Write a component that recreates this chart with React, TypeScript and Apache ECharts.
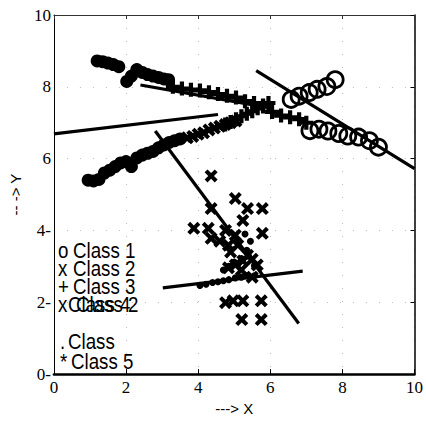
import React, { useEffect, useRef } from "react";
import * as echarts from "echarts";

// ---- data ----
const xTicks = [0, 2, 4, 6, 8, 10];
const yTicks = [0, 2, 4, 6, 8, 10];

// Class 1 (o) : circles at the ends of both curves
const class1Upper: number[][] = [
  [7.1, 6.78], [7.35, 6.82], [7.6, 6.77], [7.9, 6.7], [8.15, 6.63], [8.45, 6.6], [8.75, 6.5], [9.0, 6.32],
];
const class1Lower: number[][] = [
  [6.58, 7.65], [6.8, 7.74], [7.08, 7.84], [7.3, 7.93], [7.57, 8.01], [7.8, 8.2],
];

// Class 2 (x) : scattered crosses in the lower middle
const class2Points: number[][] = [
  [4.36, 5.52], [5.03, 4.89], [5.37, 4.61], [5.78, 4.61], [4.36, 4.61], [5.24, 4.28],
  [3.88, 4.06], [4.28, 4.06], [4.36, 3.78], [4.76, 4.0], [5.03, 3.87], [5.78, 3.92],
  [4.84, 3.59], [5.1, 3.59], [5.37, 3.31], [5.5, 3.2], [4.84, 2.96], [5.03, 3.04],
  [5.64, 3.04], [5.24, 3.15], [4.6, 3.7], [4.9, 3.4], [5.2, 2.9], [5.5, 2.7],
  [4.76, 1.99], [4.97, 2.04], [5.24, 2.04], [5.75, 2.04], [5.21, 1.52], [5.75, 1.52],
];

// Class 3 (+) : pluses along both curves
const class3Upper: number[][] = [
  [3.3, 8.0], [3.55, 7.95], [3.8, 7.92], [4.05, 7.9], [4.3, 7.85], [4.55, 7.8], [4.8, 7.75],
  [5.05, 7.7], [5.3, 7.6], [5.55, 7.55], [5.8, 7.45], [6.05, 7.3], [6.3, 7.2], [6.55, 7.15],
  [6.8, 7.1], [7.0, 7.0],
];
const class3Lower: number[][] = [
  [4.75, 6.95], [4.9, 7.02], [5.05, 7.1], [5.2, 7.18], [5.35, 7.25], [5.5, 7.32],
  [5.65, 7.4], [5.8, 7.48], [5.95, 7.55],
];

// Class 4 (x) : crosses on the rising curve
const class4Points: number[][] = [
  [3.7, 6.58], [3.85, 6.62], [4.0, 6.68], [4.15, 6.72], [4.3, 6.8], [4.45, 6.85],
  [4.6, 6.9], [4.75, 6.95], [4.9, 7.0], [5.05, 7.05],
];

// Class 5 (.) : big dots at the start of both curves, small dots near the flat line
const class5Upper: number[][] = [
  [1.2, 8.72], [1.35, 8.7], [1.5, 8.66], [1.65, 8.62], [1.8, 8.56], [2.02, 8.15], [2.15, 8.3],
  [2.3, 8.48], [2.45, 8.4], [2.6, 8.34], [2.75, 8.3], [2.9, 8.26], [3.05, 8.22], [3.18, 8.2],
];
const class5Lower: number[][] = [
  [0.95, 5.4], [1.1, 5.38], [1.25, 5.42], [1.4, 5.6], [1.55, 5.68], [1.7, 5.78], [1.85, 5.88],
  [2.0, 5.92], [2.15, 5.78], [2.3, 6.02], [2.45, 6.1], [2.6, 6.15], [2.75, 6.2], [2.9, 6.3],
  [3.05, 6.38], [3.2, 6.45], [3.35, 6.5], [3.5, 6.55],
];
const class5Small: number[][] = [
  [4.05, 2.47], [4.22, 2.5], [4.4, 2.55], [4.55, 2.57], [4.7, 2.6], [4.85, 2.63], [5.03, 2.68],
  [5.2, 2.7], [5.35, 2.74], [5.56, 2.74], [4.7, 2.9], [4.85, 3.0], [5.0, 3.12], [5.2, 3.22],
  [5.4, 3.28], [5.56, 3.02], [5.35, 3.45], [5.45, 3.7], [5.3, 3.9],
];

// fitted straight lines (end points)
const fitLine1: number[][] = [[0, 6.69], [4.55, 7.23]];
const fitLine2: number[][] = [[2.4, 8.05], [5.8, 7.45]];
const fitLine3: number[][] = [[5.61, 8.45], [10, 5.72]];
const fitLine4: number[][] = [[2.81, 6.77], [6.79, 1.41]];
const fitLine5: number[][] = [[3.02, 2.4], [6.9, 2.87]];

// legend texts as drawn in the figure
const legendLines = [
  { mark: "o", label: "Class 1" },
  { mark: "x", label: "Class 2" },
  { mark: "+", label: "Class 3" },
  { mark: "x", label: "Class 4" },
  { mark: ".", label: "Class" },
  { mark: "*", label: "Class 5" },
];

const X_PATH = "path://M2.2,0 L5,2.8 L7.8,0 L10,2.2 L7.2,5 L10,7.8 L7.8,10 L5,7.2 L2.2,10 L0,7.8 L2.8,5 L0,2.2 Z";
const PLUS_PATH = "path://M3.5,0 H6.5 V3.5 H10 V6.5 H6.5 V10 H3.5 V6.5 H0 V3.5 H3.5 Z";

export default function App() {
  const ref = useRef<HTMLDivElement>(null);

  useEffect(() => {
    if (!ref.current) return;
    const chart = echarts.init(ref.current, null, { renderer: "svg" });

    const black = "#000";
    const scat = (name: string, data: number[][], symbol: string, size: number, extra: any = {}) => ({
      type: "scatter",
      name,
      data,
      symbol,
      symbolSize: size,
      itemStyle: { color: black, opacity: 1, ...extra },
      z: 3,
    });
    const line = (data: number[][]) => ({
      type: "line",
      data,
      symbol: "none",
      lineStyle: { color: black, width: 3.2 },
      z: 2,
    });
    const circleStyle = { color: "rgba(0,0,0,0)", borderColor: black, borderWidth: 2.8 };

    const legendFont = '22px "Liberation Sans", Arial, sans-serif';
    const lx = 58;
    const ys = [250, 268, 286, 304, 341, 361];
    const graphics: any[] = [];
    legendLines.forEach((l, i) => {
      const isOverlap = i === 3;
      const labelX = i === 3 ? 68 : i === 4 ? 68 : i === 5 ? 71 : 73;
      graphics.push({
        type: "text",
        x: i >= 4 ? lx + 2 : lx,
        y: ys[i],
        scaleX: 0.85,
        style: { text: l.mark, font: legendFont, fill: black, textVerticalAlign: "middle" },
        z: 10,
      });
      graphics.push({
        type: "text",
        x: labelX,
        y: ys[i],
        scaleX: 0.85,
        style: { text: l.label, font: legendFont, fill: black, textVerticalAlign: "middle" },
        z: 10,
      });
      if (isOverlap) {
        graphics.push({
          type: "text",
          x: labelX + 8,
          y: ys[i],
          scaleX: 0.85,
          style: { text: "Class 2", font: legendFont, fill: black, textVerticalAlign: "middle" },
          z: 10,
        });
      }
    });

    const gridDots = { show: true, lineStyle: { color: "#bbb", width: 1, type: [1, 12] as any } };
    const serif = '"Liberation Serif", "Times New Roman", serif';

    chart.setOption({
      animation: false,
      backgroundColor: "#fff",
      grid: { left: 42, right: 10, top: 15, bottom: 44 },
      xAxis: [
        {
          type: "value",
          min: 0,
          max: 10,
          interval: 2,
          position: "bottom",
          axisLine: { show: true, onZero: false, lineStyle: { color: black, width: 2.5 } },
          axisTick: { show: true, inside: true, length: 5, lineStyle: { color: black } },
          axisLabel: {
            color: black,
            fontFamily: serif,
            fontSize: 17,
            margin: 5,
            formatter: (v: number) => (xTicks.includes(v) ? String(v) : ""),
          },
          splitLine: gridDots,
          name: "---> X",
          nameLocation: "middle",
          nameGap: 26,
          nameTextStyle: { color: black, fontFamily: '"Liberation Sans", Arial, sans-serif', fontSize: 15 },
        },
        {
          type: "value",
          min: 0,
          max: 10,
          interval: 2,
          position: "top",
          axisLine: { show: true, onZero: false, lineStyle: { color: "#333", width: 1 } },
          axisTick: { show: true, inside: true, length: 4, lineStyle: { color: "#333" } },
          axisLabel: { show: false },
          splitLine: { show: false },
        },
      ],
      yAxis: [
        {
          type: "value",
          min: 0,
          max: 10,
          interval: 2,
          position: "left",
          axisLine: { show: true, onZero: false, lineStyle: { color: black, width: 1 } },
          axisTick: { show: false },
          axisLabel: {
            color: black,
            fontFamily: serif,
            fontSize: 17,
            margin: 3,
            formatter: (v: number) => (yTicks.includes(v) ? (v >= 6 ? String(v) : v + "-") : ""),
          },
          splitLine: gridDots,
          name: "-- -> Y",
          nameLocation: "middle",
          nameGap: 27,
          nameRotate: 90,
          nameTextStyle: { color: black, fontFamily: '"Liberation Sans", Arial, sans-serif', fontSize: 15 },
        },
        {
          type: "value",
          min: 0,
          max: 10,
          interval: 2,
          position: "right",
          axisLine: { show: true, onZero: false, lineStyle: { color: black, width: 1.5 } },
          axisTick: { show: true, inside: true, length: 4, lineStyle: { color: black } },
          axisLabel: { show: false },
          splitLine: { show: false },
        },
      ],
      graphic: graphics,
      series: [
        line(fitLine1),
        line(fitLine2),
        line(fitLine3),
        line(fitLine4),
        line(fitLine5),
        scat("Class 5", class5Upper, "circle", 13),
        scat("Class 5", class5Lower, "circle", 13),
        scat("Class 5", class5Small, "circle", 7),
        scat("Class 4", class4Points, X_PATH, 13),
        scat("Class 3", class3Upper, PLUS_PATH, 14),
        scat("Class 3", class3Lower, PLUS_PATH, 14),
        scat("Class 2", class2Points, X_PATH, 13),
        scat("Class 1", class1Upper, "circle", 16, circleStyle),
        scat("Class 1", class1Lower, "circle", 16, circleStyle),
      ],
    });

    return () => chart.dispose();
  }, []);

  return (
    <div
      ref={ref}
      style={{ position: "fixed", left: 0, top: 0, width: 426, height: 421, background: "#fff" }}
    />
  );
}
